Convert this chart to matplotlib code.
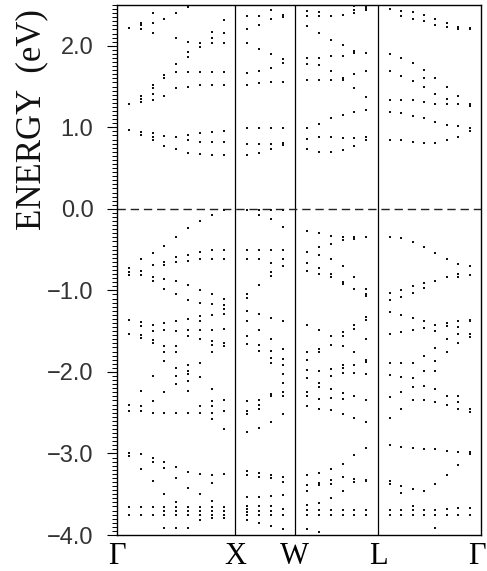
import matplotlib
matplotlib.use("Agg")
import matplotlib.pyplot as plt
from matplotlib.ticker import MultipleLocator, FixedLocator
from matplotlib.transforms import ScaledTranslation

# high-symmetry points along the fcc path (k-path distance)
sym_k = [0.0, 1.0, 1.5, 2.2071, 3.0731]
sym_labels = ["Γ", "X", "W", "L", "Γ"]

# k-points sampled in each segment
k_GX = [0.1, 0.2, 0.3, 0.4, 0.5, 0.6, 0.7, 0.8, 0.9]
k_XW = [1.1, 1.2, 1.3, 1.4]
k_WL = [1.601, 1.702, 1.803, 1.904, 2.005, 2.106]
k_LG = [2.303, 2.399, 2.496, 2.592, 2.688, 2.784, 2.881, 2.977]

# band energies (eV) read at each k-point
E_GX = [
    [2.22, 1.29, 0.97, -0.72, -0.77, -0.81, -1.36, -1.54, -2.40, -2.48, -2.99, -3.03, -3.66, -3.76],
    [2.28, 2.25, 2.20, 1.39, 1.35, 1.31, 0.94, 0.90, -0.62, -0.76, -0.81, -1.39, -1.44, -1.55, -1.58,
     -2.23, -2.42, -2.48, -3.01, -3.19, -3.66, -3.76],
    [2.40, 2.28, 2.16, 1.52, 1.48, 1.41, 1.34, 0.93, 0.88, 0.85, -0.54, -0.69, -0.84, -0.89, -1.42,
     -1.50, -1.61, -1.64, -2.05, -2.36, -2.50, -3.05, -3.10, -3.34, -3.66, -3.76],
    [2.33, 1.64, 1.60, 1.38, 0.89, 0.77, -0.45, -0.65, -0.69, -0.86, -0.98, -1.40, -1.49, -1.68, -1.76,
     -1.87, -2.25, -2.50, -3.10, -3.18, -3.50, -3.66, -3.71, -3.76, -3.91],
    [2.40, 2.09, 1.78, 1.68, 1.48, 0.88, 0.73, -0.34, -0.59, -0.65, -0.89, -1.05, -1.37, -1.50, -1.68,
     -1.76, -1.95, -2.05, -2.15, -2.50, -3.17, -3.30, -3.60, -3.66, -3.71, -3.76, -3.91],
    [2.47, 2.05, 1.92, 1.86, 1.68, 1.49, 0.90, 0.85, 0.69, -0.24, -0.56, -0.64, -0.94, -1.12, -1.35,
     -1.49, -1.56, -1.91, -1.99, -2.03, -2.11, -2.23, -2.50, -3.23, -3.42, -3.66, -3.71, -3.76, -3.91],
    [2.03, 1.99, 1.68, 1.52, 0.93, 0.82, 0.67, -0.15, -0.53, -0.62, -0.99, -1.15, -1.32, -1.38, -1.48,
     -1.60, -1.89, -2.06, -2.42, -2.50, -3.25, -3.50, -3.66, -3.70, -3.76, -3.82],
    [2.17, 2.09, 2.03, 1.68, 1.52, 0.94, 0.82, 0.66, -0.07, -0.51, -0.62, -1.04, -1.17, -1.30, -1.48,
     -1.62, -1.67, -1.76, -2.21, -2.36, -2.42, -2.50, -2.58, -3.27, -3.36, -3.58, -3.66, -3.70, -3.76, -3.79],
    [2.31, 2.16, 2.03, 1.68, 1.52, 0.95, 0.82, 0.66, -0.01, -0.50, -0.61, -1.10, -1.18, -1.23, -1.29,
     -1.47, -1.64, -1.68, -2.34, -2.48, -2.70, -3.25, -3.66, -3.70, -3.76, -3.79],
]
E_XW = [
    [2.37, 2.21, 2.03, 1.67, 1.52, 0.99, 0.80, 0.66, -0.01, -0.50, -0.62, -1.05, -1.09, -1.25, -1.37,
     -1.56, -1.66, -2.36, -2.48, -2.52, -2.74, -3.22, -3.27, -3.54, -3.64, -3.68, -3.72, -3.76, -3.82],
    [2.37, 2.25, 1.96, 1.69, 1.54, 0.99, 0.80, 0.69, -0.01, -0.07, -0.50, -0.62, -0.93, -1.29, -1.48,
     -1.67, -1.74, -2.34, -2.40, -2.45, -2.69, -3.24, -3.29, -3.54, -3.64, -3.70, -3.76, -3.85],
    [2.44, 2.33, 1.90, 1.73, 1.56, 0.99, 0.80, 0.73, -0.01, -0.13, -0.50, -0.66, -0.77, -0.82, -1.34,
     -1.60, -1.74, -1.83, -1.89, -2.27, -2.30, -2.61, -3.26, -3.30, -3.52, -3.64, -3.70, -3.76, -3.89],
    [2.38, 2.35, 1.84, 1.79, 1.56, 0.99, 0.81, 0.78, -0.01, -0.22, -0.51, -0.62, -0.70, -1.38, -1.72,
     -1.84, -1.91, -2.03, -2.13, -2.25, -2.29, -2.52, -3.29, -3.35, -3.51, -3.68, -3.76, -3.93],
]
E_WL = [
    [2.43, 2.37, 2.24, 1.85, 1.78, 1.58, 0.99, 0.86, 0.73, -0.27, -0.53, -0.66, -0.76, -1.43, -1.76,
     -1.85, -1.98, -2.08, -2.25, -2.30, -2.42, -3.27, -3.39, -3.46, -3.63, -3.69, -3.76, -3.93],
    [2.41, 2.37, 2.16, 1.85, 1.76, 1.58, 1.04, 0.88, 0.70, -0.30, -0.47, -0.56, -0.72, -0.80, -1.49,
     -1.72, -1.76, -1.99, -2.13, -2.19, -2.33, -2.45, -3.24, -3.36, -3.39, -3.61, -3.69, -3.76, -3.96],
    [2.37, 2.07, 1.87, 1.69, 1.58, 1.11, 0.88, 0.70, -0.33, -0.43, -0.61, -0.80, -0.84, -1.56, -1.67,
     -1.97, -2.05, -2.21, -2.32, -2.47, -3.19, -3.32, -3.37, -3.55, -3.69, -3.76],
    [2.38, 2.01, 1.88, 1.61, 1.58, 1.15, 0.87, 0.72, -0.34, -0.38, -0.70, -0.90, -0.92, -1.51, -1.56,
     -1.68, -1.91, -1.95, -2.01, -2.26, -2.33, -2.52, -3.13, -3.29, -3.46, -3.69, -3.76],
    [2.49, 2.44, 2.40, 1.94, 1.91, 1.65, 1.48, 1.19, 0.87, 0.77, -0.34, -0.37, -0.84, -0.98, -1.43,
     -1.47, -1.76, -1.91, -2.01, -2.30, -2.57, -3.02, -3.31, -3.35, -3.69, -3.76],
    [2.49, 2.46, 2.44, 1.91, 1.69, 1.37, 1.21, 0.88, 0.84, -0.34, -0.98, -1.05, -1.07, -1.33, -1.36,
     -1.60, -1.85, -1.88, -2.03, -2.34, -2.61, -2.93, -3.32, -3.34, -3.69, -3.76],
]
E_LG = [
    [2.45, 1.90, 1.69, 1.34, 1.19, 0.85, -0.34, -1.03, -1.12, -1.27, -1.53, -1.89, -2.04, -2.31, -2.57,
     -2.90, -3.34, -3.37, -3.69, -3.76],
    [2.43, 2.37, 1.85, 1.63, 1.34, 1.18, 0.84, -0.36, -0.99, -1.08, -1.30, -1.51, -1.89, -2.06, -2.25,
     -2.45, -2.92, -3.40, -3.48, -3.69, -3.76],
    [2.41, 2.33, 1.79, 1.57, 1.33, 1.14, 0.82, -0.41, -0.95, -1.03, -1.34, -1.48, -1.89, -2.07, -2.18,
     -2.34, -2.93, -3.44, -3.64, -3.69, -3.76],
    [2.38, 2.30, 1.70, 1.60, 1.49, 1.31, 1.11, 0.81, -0.47, -0.91, -0.97, -1.38, -1.46, -1.81, -1.99,
     -2.17, -2.34, -2.95, -3.46, -3.69, -3.76],
    [2.33, 2.25, 1.61, 1.41, 1.29, 1.07, 0.81, -0.54, -0.88, -1.43, -1.50, -1.71, -1.87, -1.99, -2.21,
     -2.37, -2.95, -3.38, -3.69, -3.76, -3.92],
    [2.28, 2.23, 1.49, 1.35, 1.28, 1.03, 0.84, -0.61, -0.84, -1.40, -1.44, -1.60, -1.76, -2.29, -2.41,
     -2.97, -3.27, -3.68, -3.76],
    [2.23, 2.21, 1.38, 1.28, 1.01, 0.88, -0.68, -0.80, -0.83, -1.37, -1.45, -1.54, -1.64, -2.29, -2.37,
     -2.45, -2.98, -3.14, -3.67, -3.76],
    [2.22, 2.20, 1.29, 1.26, 0.99, 0.95, -0.70, -0.81, -1.36, -1.38, -1.54, -1.57, -2.46, -2.49, -2.98,
     -3.01, -3.67, -3.76],
]

y_ticks = [2.0, 1.0, 0.0, -1.0, -2.0, -3.0, -4.0]
y_label = "ENERGY  (eV)"

W, H, DPI = 487, 571, 100
fig = plt.figure(figsize=(W / DPI, H / DPI), dpi=DPI)
ax = fig.add_axes([117 / W, 1 - 535 / H, (481 - 117) / W, (535 - 5) / H])

xs, ys = [], []
for kk, EE in ((k_GX, E_GX), (k_XW, E_XW), (k_WL, E_WL), (k_LG, E_LG)):
    for k, col in zip(kk, EE):
        xs.extend([k] * len(col))
        ys.extend(col)
ax.scatter(xs, ys, s=2.2, marker="s", linewidths=0, color="#111111", zorder=3)

for k in sym_k[1:-1]:
    ax.axvline(k, color="black", lw=0.9, zorder=2)
ax.axhline(0.0, color="#222222", lw=1.0, dashes=(6, 3.5), zorder=2)

ax.set_xlim(sym_k[0], sym_k[-1])
ax.set_ylim(-4.0, 2.5)

ax.xaxis.set_major_locator(FixedLocator(sym_k))
ax.set_xticklabels(sym_labels, family="Liberation Serif", fontsize=22)
ax.tick_params(axis="x", length=0, pad=5)
last = ax.get_xticklabels()[-1]
last.set_transform(last.get_transform() + ScaledTranslation(-4 / DPI, 0, fig.dpi_scale_trans))

ax.yaxis.set_major_locator(FixedLocator(y_ticks))
ax.yaxis.set_minor_locator(MultipleLocator(0.05))
ax.set_yticklabels([f"{v:.1f}".replace("-", "\u2212") for v in y_ticks],
                   family="Liberation Sans", fontsize=17, color="#333333")
ax.tick_params(axis="y", which="major", direction="out", length=7, width=0.8, pad=10)
ax.tick_params(axis="y", which="minor", direction="out", length=3.6, width=0.7)

for sp in ax.spines.values():
    sp.set_linewidth(1.0)
    sp.set_color("black")

fig.text(32 / W, 1 - 120 / H, y_label, rotation=90, ha="center", va="center",
         family="Liberation Serif", fontsize=25, color="#111111")

fig.savefig("out.png", dpi=DPI)
